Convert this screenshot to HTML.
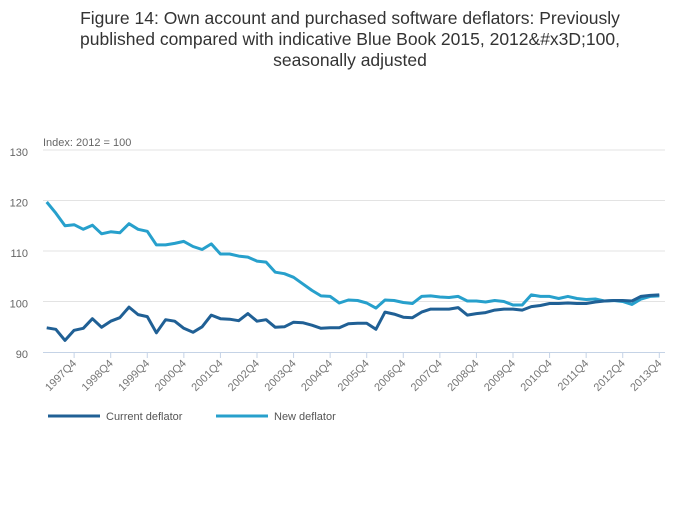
<!DOCTYPE html>
<html><head><meta charset="utf-8"><style>
body{margin:0;background:#fff;font-family:"Liberation Sans",sans-serif;}
</style></head><body>
<svg width="700" height="502" id="c" font-family="Liberation Sans, sans-serif">
<text x="350" y="24" text-anchor="middle" font-size="17.5" fill="#333"><tspan x="350">Figure 14: Own account and purchased software deflators: Previously</tspan><tspan x="350" dy="21">published compared with indicative Blue Book 2015, 2012&amp;#x3D;100,</tspan><tspan x="350" dy="21">seasonally adjusted</tspan></text>
<text x="43" y="146" font-size="11" fill="#666">Index: 2012 = 100</text>
<g id="grid"></g><g id="lines"></g><g id="xt"></g>
<g>
<line x1="48" y1="416" x2="100" y2="416" stroke="#206095" stroke-width="3"/>
<text x="106" y="420" font-size="11" fill="#555">Current deflator</text>
<line x1="216" y1="416" x2="268" y2="416" stroke="#27a0cc" stroke-width="3"/>
<text x="274" y="420" font-size="11" fill="#555">New deflator</text>
</g>
</svg>
<script>
const years=[1997,1998,1999,2000,2001,2002,2003,2004,2005,2006,2007,2008,2009,2010,2011,2012,2013];
const yTicks=[90,100,110,120,130];
const currentDeflator=[94.8,94.5,92.3,94.3,94.7,96.6,94.9,96.1,96.8,98.9,97.4,97,93.8,96.4,96.1,94.7,93.9,95,97.3,96.6,96.5,96.2,97.6,96.1,96.4,94.9,95,95.9,95.8,95.3,94.7,94.8,94.8,95.6,95.7,95.7,94.5,97.9,97.5,96.9,96.8,97.9,98.5,98.5,98.5,98.8,97.3,97.6,97.8,98.3,98.5,98.5,98.3,99,99.2,99.6,99.6,99.7,99.6,99.6,99.9,100.1,100.2,100.2,100.1,101,101.2,101.3];
const newDeflator=[119.7,117.5,115,115.2,114.3,115.1,113.4,113.8,113.6,115.4,114.3,113.9,111.2,111.2,111.5,111.9,110.9,110.3,111.4,109.4,109.4,109,108.8,108,107.8,105.8,105.5,104.8,103.5,102.2,101.1,101,99.7,100.3,100.2,99.7,98.7,100.3,100.2,99.8,99.6,101,101.1,100.9,100.8,101,100.1,100.1,99.9,100.2,100,99.3,99.3,101.3,101,101,100.6,101,100.6,100.4,100.5,100.1,100.2,100,99.4,100.5,101,101.1];
const NS="http://www.w3.org/2000/svg";
const x0=46.7,x1=659.3,n=currentDeflator.length;
const X=i=>x0+(x1-x0)*i/(n-1);
const Y=v=>352-(v-90)*(202/40);
function mk(t,a,p){const e=document.createElementNS(NS,t);for(const k in a)e.setAttribute(k,a[k]);p.appendChild(e);return e;}
const g=document.getElementById('grid');
yTicks.forEach(v=>{
 if(v>90){const l=mk('line',{x1:43,x2:665,y1:Y(v),y2:Y(v),stroke:'#e3e3e3'},g);
 
 }
 const t=mk('text',{x:28,y:Y(v)+6,'font-size':11,fill:'#666','text-anchor':'end'},g);t.textContent=v;
 
 
});
const ax=mk('line',{x1:43,x2:665,y1:352.5,y2:352.5,stroke:'#c5d3e6'},g);


const xt=document.getElementById('xt');
years.forEach((y,k)=>{const i=3+4*k;const x=X(i);
 const tk=mk('line',{x1:x,x2:x,y1:352,y2:358,stroke:'#c5d3e6'},xt);
 
 
 const t=mk('text',{x:x+3,y:364,'font-size':11,fill:'#777','text-anchor':'end',transform:`rotate(-45 ${x+3} 364)`},xt);
 t.textContent=y+'Q4';
 
 
});
const L=document.getElementById('lines');
[[newDeflator,'#27a0cc','new-deflator-line'],[currentDeflator,'#206095','current-deflator-line']].forEach(([d,c,nm])=>{
 const p=mk('polyline',{points:d.map((v,i)=>X(i).toFixed(1)+','+Y(v).toFixed(1)).join(' '),fill:'none',stroke:c,'stroke-width':3,'stroke-linejoin':'round'},L);
 
 
});
</script>
</body></html>
